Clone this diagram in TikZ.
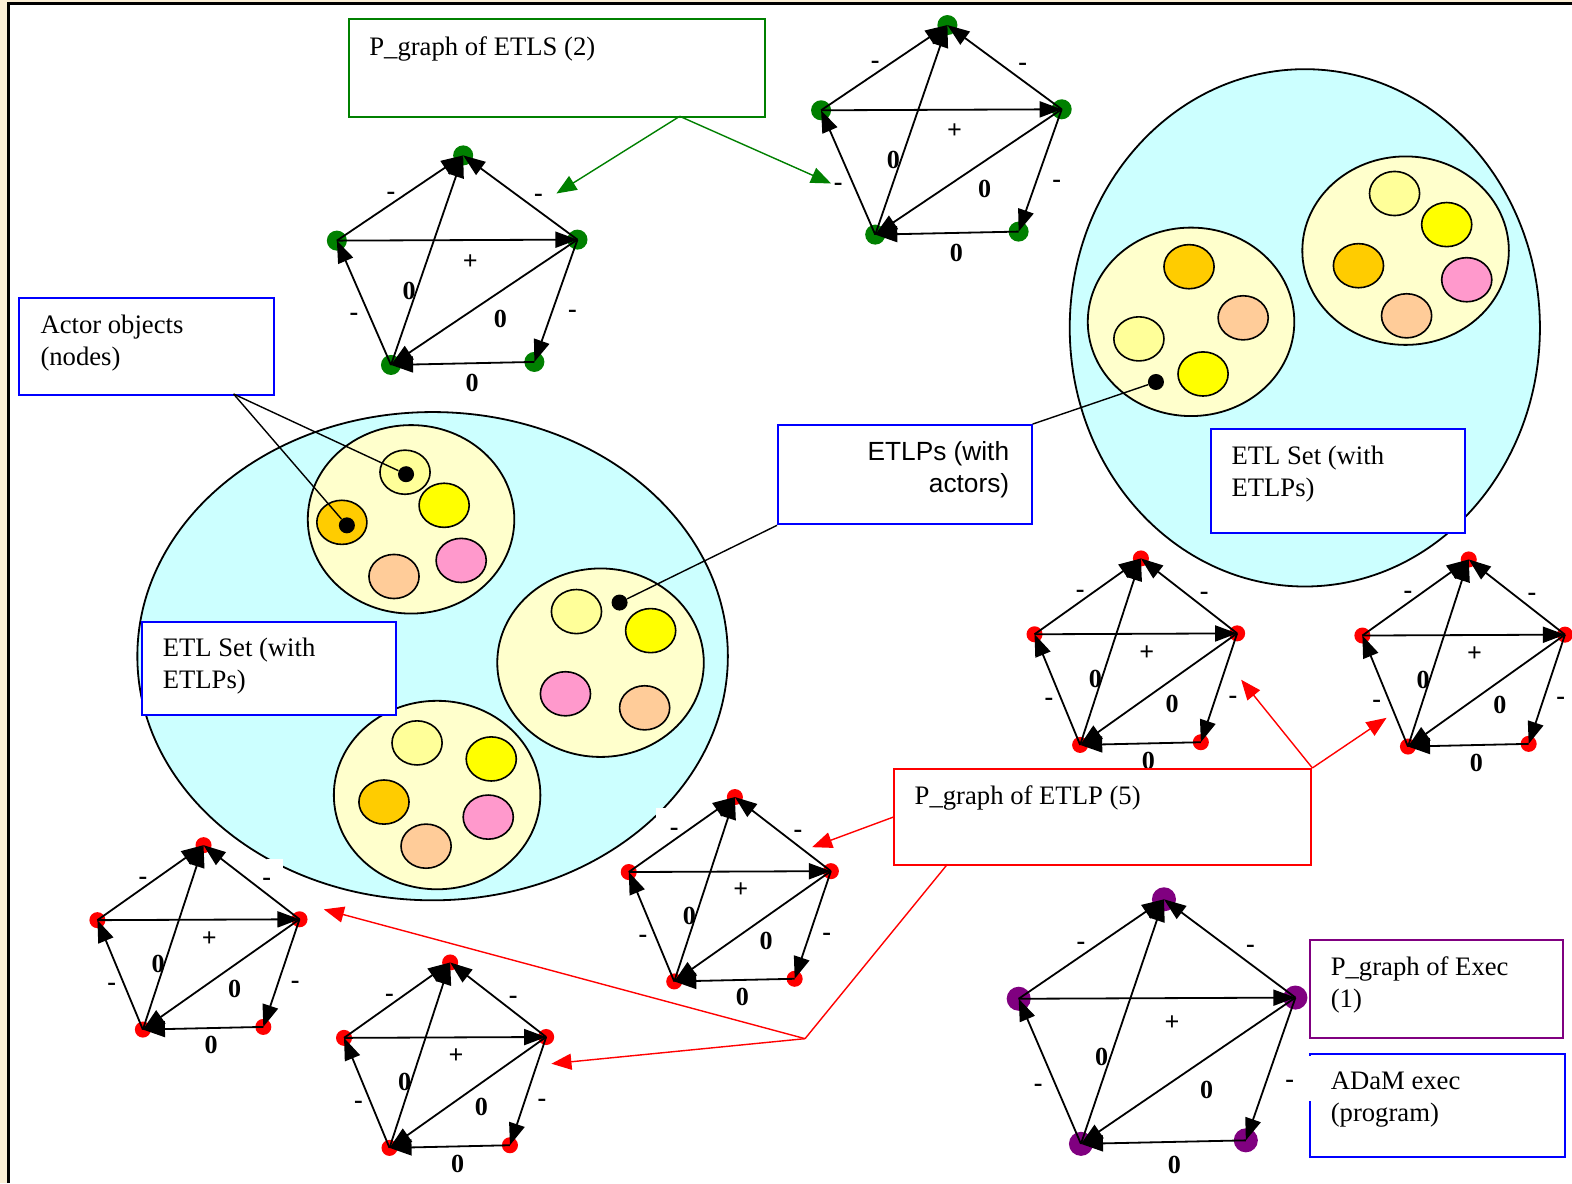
\documentclass[tikz,border=0pt]{standalone}
\usepackage{fontspec}
\setmainfont{Liberation Serif}
\newfontfamily\arialfont{Liberation Sans}
\usetikzlibrary{arrows.meta}

\definecolor{setcyan}{HTML}{CCFFFF}
\definecolor{etlpfill}{HTML}{FFFFCC}
\definecolor{actpale}{HTML}{FFFF99}
\definecolor{actyellow}{HTML}{FFFF00}
\definecolor{actorange}{HTML}{FFCC00}
\definecolor{actpeach}{HTML}{FFCC99}
\definecolor{actpink}{HTML}{FF99CC}
\definecolor{pgreen}{HTML}{008000}
\definecolor{ppurple}{HTML}{800080}
\definecolor{boxblue}{HTML}{0000FF}
\definecolor{pageback}{HTML}{FBEFD6}

\tikzset{
  gdot/.style={circle, fill=pgreen, minimum size=10pt, inner sep=0pt},
  rdot/.style={circle, fill=red, minimum size=8pt, inner sep=0pt},
  pdot/.style={circle, fill=ppurple, minimum size=12pt, inner sep=0pt},
  bdot/.style={circle, fill=black, minimum size=8pt, inner sep=0pt},
  parc/.style={line width=0.9pt, -{Triangle[length=11pt,width=8pt]}},
  lbl/.style={font=\fontsize{13}{13}\selectfont\bfseries, inner sep=0pt},
  infobox/.style={draw=#1, line width=1pt, fill=white, anchor=north west, inner sep=0pt},
  infotext/.style={font=\fontsize{13.3}{16}\selectfont, align=left, anchor=base west, inner sep=0pt},
  carr/.style={#1, line width=0.7pt, -{Triangle[length=10pt,width=8pt]}},
  etlp/.style={line width=0.9pt, fill=etlpfill},
  actor/.style={line width=0.8pt}
}

\newcommand{\pgraph}[6]{%
  \begin{scope}[shift={(#2,#3)}, xscale=#4, yscale=#5]
    \node[#6] (#1t) at (0,0) {};
    \node[#6] (#1l) at (-126,85) {};
    \node[#6] (#1r) at (114,84) {};
    \node[#6] (#1bl) at (-72,209) {};
    \node[#6] (#1br) at (71,206) {};
    \foreach \a/\b in {l/t,r/t,l/r,bl/t,r/bl,bl/l,r/br,br/bl}
      \draw[parc] (#1\a.center) -- (#1\b.center);
    \node[lbl] (#1m1) at (-72,40) {-};
    \node[lbl] (#1m2) at (75,42) {-};
    \node[lbl] (#1m3) at (7,106) {+};
    \node[lbl] (#1m4) at (-54,135) {0};
    \node[lbl] (#1m5) at (37,163) {0};
    \node[lbl] (#1m6) at (-109,161) {-};
    \node[lbl] (#1m7) at (109,158) {-};
    \node[lbl] (#1m8) at (9,227) {0};
  \end{scope}}

\begin{document}
\begin{tikzpicture}[x=0.5pt, y=-0.5pt]
  \useasboundingbox (0,0) rectangle (1568,1180);
  \fill[pageback] (0,0) rectangle (1568,1180);
  \fill[white] (8,3) rectangle (1568,1180);
  \draw[line width=1.5pt] (8,1180) -- (8,3) -- (1568,3);

  \draw[line width=0.9pt, fill=setcyan] (431.5,654.5) ellipse [x radius=147.25pt, y radius=121.75pt];
  \draw[line width=0.9pt, fill=setcyan] (1301.5,327) ellipse [x radius=117.25pt, y radius=129pt];

  \draw[etlp] (410,518) ellipse [x radius=51.5pt, y radius=47pt];
  \draw[etlp] (599,661) ellipse [x radius=51.5pt, y radius=47pt];
  \draw[etlp] (436,793) ellipse [x radius=51.5pt, y radius=47pt];
  \draw[etlp] (1188,321) ellipse [x radius=51.5pt, y radius=47pt];
  \draw[etlp] (1402,250) ellipse [x radius=51.5pt, y radius=47pt];

  \foreach \x/\y/\c in {404/471/actpale, 443/504/actyellow, 341/521/actorange, 393/575/actpeach, 460/559/actpink,
                        575/610/actpale, 649/629/actyellow, 564/692/actpink, 643/706/actpeach,
                        416/741/actpale, 490/757/actyellow, 383/800/actorange, 487/815/actpink, 425/844/actpeach,
                        1186/266/actorange, 1240/317/actpeach, 1136/338/actpale, 1200/373/actyellow,
                        1391/193/actpale, 1443/224/actyellow, 1355/265/actorange, 1463/279/actpink, 1403/315/actpeach}
    \draw[actor, fill=\c] (\x,\y) ellipse [x radius=12.5pt, y radius=11pt];

  \node[bdot] (dpale) at (405,473) {};
  \node[bdot] (dorange) at (346,524) {};
  \node[bdot] (dmid) at (618,601) {};
  \node[bdot] (dright) at (1153,381) {};

  \fill[white] (266,857) rectangle (282,868);
  \fill[white] (654,806) rectangle (667,820);

  \pgraph{ga}{462}{155}{1}{1}{gdot}
  \pgraph{gb}{945}{25}{1}{1}{gdot}
  \pgraph{rc}{1138}{557}{0.842}{0.89}{rdot}
  \pgraph{rd}{1465}{558}{0.842}{0.893}{rdot}
  \pgraph{re}{733}{795}{0.84}{0.88}{rdot}
  \pgraph{rf}{203}{843}{0.84}{0.88}{rdot}
  \pgraph{rg}{449}{960}{0.84}{0.885}{rdot}
  \pgraph{ph}{1161}{897}{1.15}{1.167}{pdot}

  \node[infobox=pgreen, minimum width=207.5pt, minimum height=49pt] (etlsbox) at (347,18) {};
  \node[infotext] (etlstext) at (368,55) {P\_graph of ETLS (2)};

  \node[infobox=boxblue, minimum width=127pt, minimum height=48.5pt] (actbox) at (18,296) {};
  \node[infotext] (acttext) at (40,365) {Actor objects\\(nodes)};

  \node[infobox=boxblue, minimum width=126.5pt, minimum height=49.5pt] (etlpsbox) at (775,423) {};
  \node[infotext, font=\arialfont\fontsize{13.1}{16}\selectfont, align=right, anchor=base east] (etlpstext) at (1007,491) {ETLPs (with\\actors)};

  \node[infobox=boxblue, minimum width=126.5pt, minimum height=52pt] (setrbox) at (1207,427) {};
  \node[infotext] (setrtext) at (1228,495) {ETL Set (with\\ETLPs)};

  \node[infobox=boxblue, minimum width=126.5pt, minimum height=46.5pt] (setlbox) at (141,619) {};
  \node[infotext] (setltext) at (162,687) {ETL Set (with\\ETLPs)};

  \node[infobox=red, minimum width=208pt, minimum height=48pt] (etlpbox) at (891,766) {};
  \node[infotext] (etlptext) at (912,802) {P\_graph of ETLP (5)};

  \node[infobox=ppurple, minimum width=126pt, minimum height=48.5pt] (execbox) at (1306,937) {};
  \node[infotext] (exectext) at (1327,1005) {P\_graph of Exec\\(1)};

  \node[infobox=boxblue, minimum width=127pt, minimum height=51.5pt] (adambox) at (1306,1050) {};
  \node[infotext] (adamtext) at (1327,1119) {ADaM exec\\(program)};
  \fill[white] (1303,1053) rectangle (1311,1098);

  \coordinate (etlsfoot) at (678,116);
  \coordinate (gtipa) at (555,193);
  \coordinate (gtipb) at (829,183);
  \draw[carr=pgreen] (etlsfoot) -- (gtipa);
  \draw[carr=pgreen] (etlsfoot) -- (gtipb);

  \coordinate (actfoot) at (233,393);
  \draw[line width=0.7pt] (actfoot) -- (dpale);
  \draw[line width=0.7pt] (actfoot) -- (dorange);

  \draw[line width=0.7pt] (etlpsbox.north east) -- (dright);
  \draw[line width=0.7pt] (etlpsbox.south west) -- (dmid);

  \coordinate (rtipc) at (1238,678);
  \coordinate (rtipd) at (1383,716);
  \coordinate (rtipe) at (810,845);
  \coordinate (etlpfoot) at (945,862);
  \coordinate (rjoin) at (803,1036);
  \coordinate (rtipf) at (323,907);
  \coordinate (rtipg) at (550,1061);
  \draw[carr=red] (etlpbox.north east) -- (rtipc);
  \draw[carr=red] (etlpbox.north east) -- (rtipd);
  \draw[carr=red] (etlpbox.west) -- (rtipe);
  \draw[red, line width=0.7pt] (etlpfoot) -- (rjoin);
  \draw[carr=red] (rjoin) -- (rtipf);
  \draw[carr=red] (rjoin) -- (rtipg);
\end{tikzpicture}
\end{document}
